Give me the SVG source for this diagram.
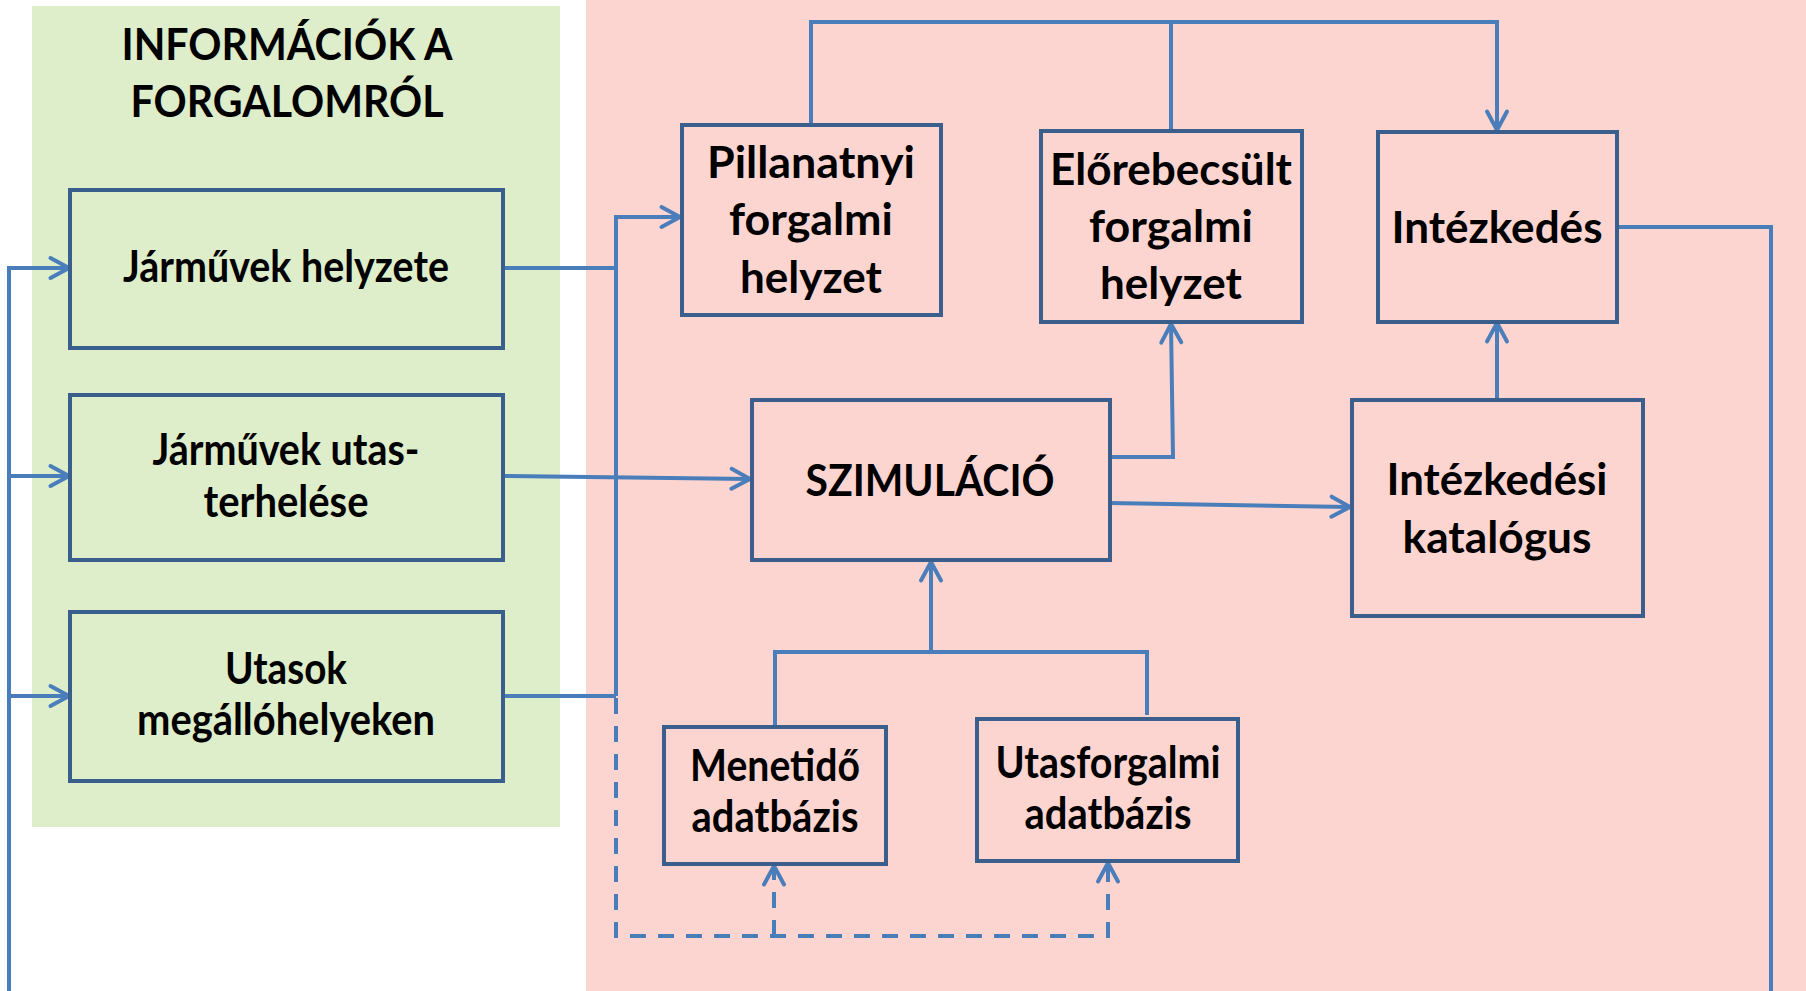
<svg xmlns="http://www.w3.org/2000/svg" width="1806" height="991" viewBox="0 0 1806 991">
<style>
  .box { fill: none; stroke: #3b5f8c; stroke-width: 4; }
  .lbl { font-family: Lato, "Open Sans", "Liberation Sans", sans-serif; font-weight: bold; font-size: 43px; fill: #000; text-anchor: middle; }
  .con { fill: none; stroke: #4a7ebb; stroke-width: 4; }
  .dash { fill: none; stroke: #4a7ebb; stroke-width: 4; stroke-dasharray: 16 12; }
</style>
<defs>
  <marker id="arr" markerUnits="userSpaceOnUse" markerWidth="30" markerHeight="30" viewBox="-25 -15 30 30" refX="0" refY="0" orient="auto">
    <path d="M-18.5,-10 L0,0 L-18.5,10" fill="none" stroke="#4a7ebb" stroke-width="4" stroke-linecap="round" stroke-linejoin="round"/>
  </marker>
</defs>
<rect x="0" y="0" width="1806" height="991" fill="#ffffff"/>
<rect id="bg-green" x="32" y="6" width="528" height="821" fill="#deedca"/>
<rect id="bg-pink" x="586" y="0" width="1220" height="991" fill="#fdd5d0"/>

<g id="title">
  <text class="lbl" x="287" y="60" textLength="331" lengthAdjust="spacingAndGlyphs">INFORMÁCIÓK A</text>
  <text class="lbl" x="287" y="117" textLength="313" lengthAdjust="spacingAndGlyphs">FORGALOMRÓL</text>
</g>

<g id="connectors">
  <path class="con" d="M1617,227 H1771 V991"/>
  <path class="con" d="M9,991 V268 H69" marker-end="url(#arr)"/>
  <path class="con" d="M9,476 H69" marker-end="url(#arr)"/>
  <path class="con" d="M9,696 H69" marker-end="url(#arr)"/>
  <path class="con" d="M503,268 H616"/>
  <path class="con" d="M503,696 H616"/>
  <path class="con" d="M616,696 V217 H680" marker-end="url(#arr)"/>
  <path class="con" d="M503,476 L750,479" marker-end="url(#arr)"/>
  <path class="dash" d="M616,698 V936 H1108 V863" marker-end="url(#arr)"/>
  <path class="dash" d="M774,936 V866" marker-end="url(#arr)"/>
  <path class="con" d="M811,125 V22 H1497 V130" marker-end="url(#arr)"/>
  <path class="con" d="M1171,131 V22"/>
  <path class="con" d="M1110,457 H1173 L1171,324" marker-end="url(#arr)"/>
  <path class="con" d="M1110,503 L1350,507" marker-end="url(#arr)"/>
  <path class="con" d="M1497,400 V323" marker-end="url(#arr)"/>
  <path class="con" d="M775,727 V652 H1147 V715"/>
  <path class="con" d="M931,652 V562" marker-end="url(#arr)"/>
</g>

<g id="jarmuvek-helyzete">
  <rect class="box" x="70" y="190" width="433" height="158"/>
  <text class="lbl" x="286" y="282" textLength="326" lengthAdjust="spacingAndGlyphs">Járművek helyzete</text>
</g>
<g id="jarmuvek-utasterhelese">
  <rect class="box" x="70" y="395" width="433" height="165"/>
  <text class="lbl" x="286" y="465" textLength="267" lengthAdjust="spacingAndGlyphs">Járművek utas-</text>
  <text class="lbl" x="286" y="517" textLength="165" lengthAdjust="spacingAndGlyphs">terhelése</text>
</g>
<g id="utasok">
  <rect class="box" x="70" y="612" width="433" height="169"/>
  <text class="lbl" x="286" y="684" textLength="122" lengthAdjust="spacingAndGlyphs">Utasok</text>
  <text class="lbl" x="286" y="735" textLength="298" lengthAdjust="spacingAndGlyphs">megállóhelyeken</text>
</g>
<g id="pillanatnyi">
  <rect class="box" x="682" y="125" width="259" height="190"/>
  <text class="lbl" x="811" y="178" textLength="208" lengthAdjust="spacingAndGlyphs">Pillanatnyi</text>
  <text class="lbl" x="811" y="235" textLength="164" lengthAdjust="spacingAndGlyphs">forgalmi</text>
  <text class="lbl" x="811" y="293" textLength="142" lengthAdjust="spacingAndGlyphs">helyzet</text>
</g>
<g id="elorebecsult">
  <rect class="box" x="1041" y="131" width="261" height="191"/>
  <text class="lbl" x="1171" y="185" textLength="242" lengthAdjust="spacingAndGlyphs">Előrebecsült</text>
  <text class="lbl" x="1171" y="242" textLength="164" lengthAdjust="spacingAndGlyphs">forgalmi</text>
  <text class="lbl" x="1171" y="299" textLength="142" lengthAdjust="spacingAndGlyphs">helyzet</text>
</g>
<g id="intezkedes">
  <rect class="box" x="1378" y="132" width="239" height="190"/>
  <text class="lbl" x="1497" y="243" textLength="211" lengthAdjust="spacingAndGlyphs">Intézkedés</text>
</g>
<g id="szimulacio">
  <rect class="box" x="752" y="400" width="358" height="160"/>
  <text class="lbl" x="930" y="496" textLength="249" lengthAdjust="spacingAndGlyphs">SZIMULÁCIÓ</text>
</g>
<g id="intezkedesi-katalogus">
  <rect class="box" x="1352" y="400" width="291" height="216"/>
  <text class="lbl" x="1497" y="495" textLength="221" lengthAdjust="spacingAndGlyphs">Intézkedési</text>
  <text class="lbl" x="1497" y="553" textLength="189" lengthAdjust="spacingAndGlyphs">katalógus</text>
</g>
<g id="menetido">
  <rect class="box" x="664" y="727" width="222" height="137"/>
  <text class="lbl" x="775" y="781" textLength="170" lengthAdjust="spacingAndGlyphs">Menetidő</text>
  <text class="lbl" x="775" y="832" textLength="167" lengthAdjust="spacingAndGlyphs">adatbázis</text>
</g>
<g id="utasforgalmi">
  <rect class="box" x="977" y="719" width="261" height="142"/>
  <text class="lbl" x="1108" y="778" textLength="225" lengthAdjust="spacingAndGlyphs">Utasforgalmi</text>
  <text class="lbl" x="1108" y="829" textLength="167" lengthAdjust="spacingAndGlyphs">adatbázis</text>
</g>
</svg>
